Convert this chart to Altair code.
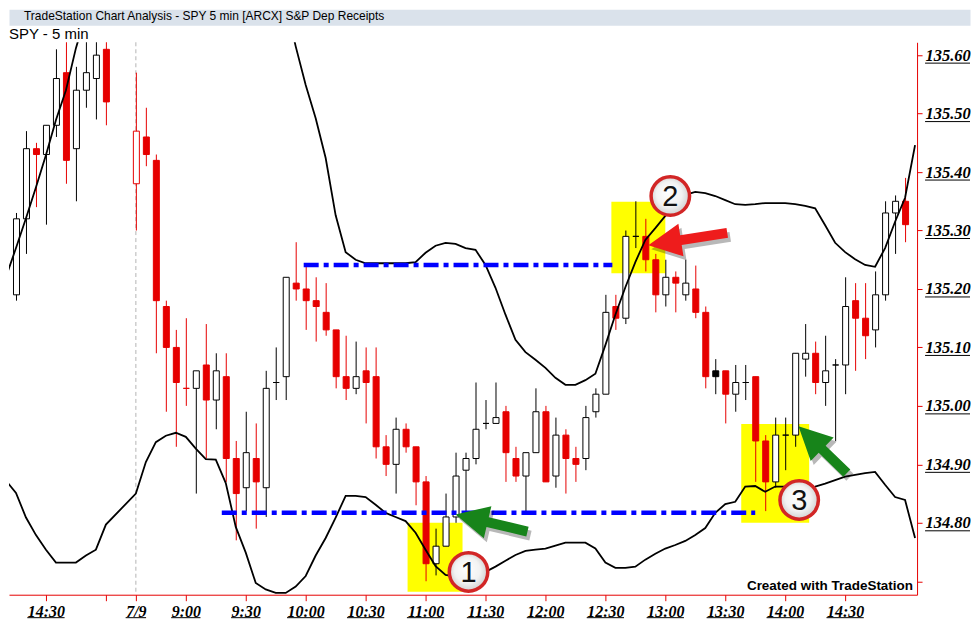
import json
import math
import altair as alt
import pandas as pd

WINDOW_TITLE = "TradeStation Chart Analysis - SPY 5 min [ARCX] S&P Dep Receipts"
CHART_LABEL = "SPY - 5 min"
CREDIT = "Created with TradeStation"

# ---------------- price data (5-minute bars) ----------------
# 7/8 session, last 11 bars (13:50 .. 15:00)
prev_open = [135.06, 135.19, 135.32, 135.44, 135.43, 135.48, 135.57, 135.44, 135.54, 135.56, 135.61]
prev_high = [135.22, 135.33, 135.47, 135.45, 135.48, 135.61, 135.63, 135.58, 135.63, 135.63, 135.63]
prev_low = [135.06, 135.18, 135.26, 135.34, 135.31, 135.46, 135.38, 135.35, 135.51, 135.49, 135.48]
prev_close = [135.20, 135.32, 135.44, 135.43, 135.48, 135.56, 135.42, 135.54, 135.57, 135.60, 135.52]

# 7/9 session, 78 bars (8:35 .. 15:00)
day_open = [135.38, 135.46, 135.42, 135.17, 135.10, 135.03, 135.03, 135.07, 135.01, 135.05,
            134.91, 134.86, 134.91, 134.86, 135.04, 135.05, 135.21, 135.20, 135.18, 135.16,
            135.13, 135.05, 135.03, 135.06, 135.05, 134.93, 134.90, 134.96, 134.93, 134.87,
            134.73, 134.76, 134.81, 134.89, 134.91, 134.97, 134.97, 134.99, 134.91, 134.88,
            134.92, 134.99, 134.88, 134.95, 134.91, 134.91, 134.99, 135.02, 135.17, 135.15,
            135.29, 135.29, 135.25, 135.19, 135.22, 135.19, 135.20, 135.16, 135.06, 135.06,
            135.02, 135.04, 135.05, 134.94, 134.87, 134.95, 134.95, 135.08, 135.09, 135.04,
            135.07, 135.07, 135.18, 135.15, 135.13, 135.19, 135.33, 135.35]
day_high = [135.57, 135.51, 135.43, 135.18, 135.13, 135.15, 135.06, 135.14, 135.09, 135.09,
            134.94, 134.99, 134.97, 135.06, 135.10, 135.22, 135.28, 135.24, 135.22, 135.21,
            135.13, 135.12, 135.11, 135.10, 135.10, 134.95, 134.98, 134.97, 134.93, 134.88,
            134.79, 134.85, 134.92, 134.92, 135.04, 135.01, 135.04, 135.00, 134.93, 134.92,
            135.03, 135.00, 134.98, 134.96, 134.93, 135.00, 135.03, 135.19, 135.19, 135.30,
            135.35, 135.32, 135.26, 135.25, 135.23, 135.25, 135.24, 135.17, 135.08, 135.06,
            135.07, 135.07, 135.05, 134.95, 134.98, 134.98, 135.09, 135.14, 135.11, 135.12,
            135.08, 135.22, 135.21, 135.21, 135.23, 135.35, 135.36, 135.39]
day_low = [135.30, 135.41, 135.09, 134.99, 134.93, 135.00, 134.85, 134.91, 134.96, 134.87,
           134.77, 134.82, 134.79, 134.81, 135.01, 135.01, 135.18, 135.13, 135.11, 135.12,
           135.03, 135.01, 135.02, 134.97, 134.91, 134.88, 134.85, 134.92, 134.83, 134.70,
           134.71, 134.76, 134.80, 134.81, 134.90, 134.96, 134.97, 134.87, 134.87, 134.82,
           134.92, 134.87, 134.86, 134.85, 134.87, 134.89, 134.98, 135.02, 135.13, 135.14,
           135.27, 135.23, 135.16, 135.17, 135.16, 135.18, 135.15, 135.03, 135.02, 134.97,
           134.99, 135.01, 134.87, 134.82, 134.86, 134.89, 134.93, 135.05, 135.02, 135.00,
           134.94, 135.02, 135.06, 135.08, 135.10, 135.18, 135.26, 135.28]
day_close = [135.47, 135.43, 135.18, 135.10, 135.04, 135.03, 135.06, 135.01, 135.06, 134.91,
             134.85, 134.92, 134.87, 135.03, 135.04, 135.22, 135.20, 135.18, 135.17, 135.13,
             135.05, 135.03, 135.05, 135.04, 134.93, 134.90, 134.96, 134.93, 134.87, 134.73,
             134.76, 134.81, 134.88, 134.91, 134.96, 134.97, 134.98, 134.92, 134.88, 134.92,
             134.99, 134.87, 134.95, 134.91, 134.90, 134.98, 135.02, 135.16, 135.15, 135.29,
             135.29, 135.25, 135.19, 135.22, 135.21, 135.21, 135.16, 135.05, 135.05, 135.02,
             135.04, 135.04, 134.94, 134.87, 134.95, 134.95, 135.09, 135.09, 135.04, 135.06,
             135.07, 135.17, 135.15, 135.12, 135.19, 135.33, 135.35, 135.31]

# bar slots: 11 bars of 7/8, a session gap, then 78 bars of 7/9
prev_slots = list(range(0, 11))
day_slots = list(range(13, 91))
special_kind = {13: "up_red", 18: "doji_red", 71: "down_black"}

# band study (upper / lower)
band_slots = list(range(0, 11)) + list(range(13, 92))
upper_band = [135.221, 135.270, 135.321, 135.374, 135.429, 135.489, 135.540, 135.612, 135.670, 135.720, 135.750,
              135.780, 135.800, 135.800, 135.800, 135.800, 135.800, 135.800, 135.800, 135.800, 135.800,
              135.800, 135.800, 135.800, 135.800, 135.760, 135.690, 135.615, 135.549, 135.492, 135.424,
              135.326, 135.263, 135.250, 135.244, 135.244, 135.244, 135.244, 135.244, 135.246, 135.262,
              135.274, 135.279, 135.277, 135.270, 135.267, 135.241, 135.202, 135.156, 135.113, 135.092,
              135.079, 135.065, 135.048, 135.036, 135.036, 135.044, 135.055, 135.104, 135.156, 135.203,
              135.246, 135.284, 135.304, 135.325, 135.344, 135.361, 135.366, 135.364, 135.359, 135.352,
              135.345, 135.344, 135.345, 135.347, 135.347, 135.347, 135.345, 135.342, 135.338, 135.309,
              135.279, 135.263, 135.251, 135.241, 135.238, 135.270, 135.315, 135.356, 135.446]
lower_band = [134.872, 134.851, 134.809, 134.779, 134.754, 134.732, 134.732, 134.732, 134.744, 134.754, 134.797,
              134.850, 134.904, 134.938, 134.949, 134.954, 134.947, 134.927, 134.909, 134.908, 134.868,
              134.793, 134.749, 134.697, 134.686, 134.680, 134.680, 134.691, 134.709, 134.744, 134.774,
              134.809, 134.846, 134.846, 134.844, 134.831, 134.817, 134.810, 134.803, 134.783, 134.754,
              134.726, 134.711, 134.708, 134.708, 134.711, 134.716, 134.725, 134.735, 134.745, 134.752,
              134.754, 134.756, 134.761, 134.766, 134.766, 134.766, 134.756, 134.732, 134.723, 134.723,
              134.725, 134.737, 134.747, 134.756, 134.762, 134.769, 134.779, 134.791, 134.817, 134.832,
              134.836, 134.862, 134.863, 134.853, 134.862, 134.862, 134.862, 134.860, 134.862, 134.867,
              134.873, 134.879, 134.882, 134.885, 134.887, 134.865, 134.844, 134.839, 134.774]

# axes
tick_slots = [4, 10, 13, 18, 24, 30, 36, 42, 48, 54, 60, 66, 72, 78, 84]
tick_labels = ["14:30", "", "7/9", "9:00", "9:30", "10:00", "10:30", "11:00", "11:30",
               "12:00", "12:30", "13:00", "13:30", "14:00", "14:30"]
price_ticks = [134.7, 134.8, 134.9, 135.0, 135.1, 135.2, 135.3, 135.4, 135.5, 135.6]
session_break = [13]

# annotations
level_price = [135.241, 134.817]
level_from = [29.8, 21.6]
level_to = [60.7, 75.0]

zone_x1 = [40.2, 60.6, 73.6]
zone_x2 = [45.7, 66.0, 80.4]
zone_lo = [134.682, 135.227, 134.800]
zone_hi = [134.800, 135.349, 134.969]

marker_slot = [46.3, 66.5, 79.4]
marker_price = [134.716, 135.359, 134.839]
marker_label = ["1", "2", "3"]

arrow_tip_slot = [45.0, 64.3, 79.33]
arrow_tip_price = [134.814, 135.275, 134.965]
arrow_tail_slot = [52.2, 72.2, 84.17]
arrow_tail_price = [134.785, 135.296, 134.885]
arrow_color = ["#17841a", "#ee1c1c", "#17841a"]

# ---------------- styling / layout ----------------
RED = "#e60000"
W, H = 909, 553
X_DOM = [0.3, 91.2]
Y_DOM = [134.677, 135.622]
PX_SLOT = W / (X_DOM[1] - X_DOM[0])
PX_PRICE = H / (Y_DOM[1] - Y_DOM[0])

label_arr = [""] * 92
for s, l in zip(tick_slots, tick_labels):
    label_arr[s] = l

x_axis = alt.Axis(values=tick_slots, labelExpr=json.dumps(label_arr) + "[datum.value]",
                  orient="bottom", domainColor=RED, tickColor=RED, tickSize=6,
                  labelFont="Liberation Serif", labelFontStyle="italic", labelFontWeight="bold",
                  labelFontSize=16, labelColor="black", labelPadding=3, grid=False,
                  title=None, labelOverlap=False, labelFlush=False)
y_axis = alt.Axis(values=price_ticks,
                  labelExpr="datum.value < 134.75 ? '' : format(datum.value, '.2f')",
                  orient="right", domainColor=RED, tickColor=RED, tickSize=5,
                  labelFont="Liberation Serif", labelFontStyle="italic", labelFontWeight="bold",
                  labelFontSize=16.5, labelColor="black", labelPadding=3, grid=False,
                  title=None, labelOverlap=False, labelFlush=False)
X_SCALE = alt.Scale(domain=X_DOM, nice=False, zero=False, padding=0)
Y_SCALE = alt.Scale(domain=Y_DOM, nice=False, zero=False, padding=0)


def X(f):
    return alt.X(f"{f}:Q", scale=X_SCALE, axis=x_axis)


def Y(f):
    return alt.Y(f"{f}:Q", scale=Y_SCALE, axis=y_axis)


# ---------------- tables ----------------
style = {"up": ("white", "black"), "down": (RED, RED), "up_red": ("white", RED),
         "doji_red": (RED, RED), "down_black": ("black", "black")}
rows = []
for s, o, h, l, c in zip(prev_slots + day_slots, prev_open + day_open, prev_high + day_high,
                         prev_low + day_low, prev_close + day_close):
    kind = special_kind.get(s, "up" if c >= o else "down")
    fill, stroke = style[kind]
    rows.append({"slot": s, "open": o, "high": h, "low": l, "close": c,
                 "lo": min(o, c), "hi": max(o, c), "fill": fill, "stroke": stroke})
candles = pd.DataFrame(rows)

bands = pd.DataFrame({"slot": band_slots * 2, "value": upper_band + lower_band,
                      "band": ["upper"] * len(band_slots) + ["lower"] * len(band_slots)})
levels = pd.DataFrame({"x1": level_from, "x2": level_to, "p": level_price})
zones = pd.DataFrame({"x1": zone_x1, "x2": zone_x2, "lo": zone_lo, "hi": zone_hi})
markers = pd.DataFrame({"slot": marker_slot, "price": marker_price, "label": marker_label})
divider = pd.DataFrame({"slot": session_break})


def arrow_path(length, head_len=33.0, head_w=33.0, shaft_w=10.0):
    u = length / 2.0
    hb = -1 + head_len / u
    hw = head_w / 2 / u
    sw = shaft_w / 2 / u
    return (f"M0,-1L{hw:.3f},{hb:.3f}L{sw:.3f},{hb:.3f}L{sw:.3f},1"
            f"L{-sw:.3f},1L{-sw:.3f},{hb:.3f}L{-hw:.3f},{hb:.3f}Z")


arows = []
for ts, tp, qs, qp, col in zip(arrow_tip_slot, arrow_tip_price, arrow_tail_slot,
                               arrow_tail_price, arrow_color):
    dx = (ts - qs) * PX_SLOT
    dy = -(tp - qp) * PX_PRICE
    L = math.hypot(dx, dy)
    ang = math.degrees(math.atan2(dx / L, -dy / L)) % 360
    arows.append({"slot": (ts + qs) / 2, "price": (tp + qp) / 2, "angle": ang,
                  "size": L * L, "path": arrow_path(L), "color": col})
arrows = pd.DataFrame(arows)

# underline decorations for the axis labels (TradeStation style)
lab_ticks = [p for p in price_ticks if p > 134.75]
yline = pd.DataFrame({"p": lab_ticks})
cw = {":": 0.333, "/": 0.278}
xl_rows = []
for s, l in zip(tick_slots, tick_labels):
    if not l:
        continue
    w = sum(cw.get(ch, 0.5) for ch in l) * 16 / PX_SLOT
    xl_rows.append({"u0": s - w / 2, "u1": s + w / 2})
xline = pd.DataFrame(xl_rows)
credit = pd.DataFrame({"slot": [90.8], "price": [134.692], "t": [CREDIT]})

# ---------------- layers ----------------
visible = "datum.slot >= 1"
zone_layer = alt.Chart(zones).mark_rect(color="#ffff00").encode(
    x=X("x1"), x2="x2", y=Y("lo"), y2="hi")
div_layer = alt.Chart(divider).mark_rule(color="#b4b4b4", strokeDash=[4, 3], strokeWidth=1).encode(
    x=X("slot"))
wick_layer = alt.Chart(candles).transform_filter(visible).mark_rule(
    strokeWidth=1, clip=True, xOffset=0.5, x2Offset=0.5).encode(
    x=X("slot"), y=Y("low"), y2="high", color=alt.Color("stroke:N", scale=None))
body_layer = alt.Chart(candles).transform_filter(visible).mark_bar(
    size=6, strokeWidth=1, clip=True, xOffset=0.5).encode(
    x=X("slot"), y=Y("lo"), y2="hi",
    fill=alt.Fill("fill:N", scale=None), stroke=alt.Stroke("stroke:N", scale=None))
band_layer = alt.Chart(bands).mark_line(color="black", strokeWidth=1.8, clip=True).encode(
    x=X("slot"), y=Y("value"), detail="band:N")
level_layer = alt.Chart(levels).mark_rule(color="#0000ff", strokeWidth=4.5,
                                          strokeDash=[15, 5, 5, 5]).encode(
    x=X("x1"), x2="x2", y=Y("p"))
shadow_layer = alt.Chart(arrows).mark_point(filled=True, opacity=0.28, color="#000000",
                                            strokeWidth=0, xOffset=3, yOffset=4).encode(
    x=X("slot"), y=Y("price"), shape=alt.Shape("path:N", scale=None),
    size=alt.Size("size:Q", scale=None), angle=alt.Angle("angle:Q", scale=None))
arrow_layer = alt.Chart(arrows).mark_point(filled=True, opacity=1, strokeWidth=0).encode(
    x=X("slot"), y=Y("price"), shape=alt.Shape("path:N", scale=None),
    size=alt.Size("size:Q", scale=None), angle=alt.Angle("angle:Q", scale=None),
    color=alt.Color("color:N", scale=None))
ring_fill = alt.RadialGradient(gradient="radial", x1=0.42, y1=0.38, r1=0, x2=0.5, y2=0.5, r2=0.55,
                               stops=[alt.GradientStop(color="#ffffff", offset=0),
                                      alt.GradientStop(color="#f2f2f2", offset=0.6),
                                      alt.GradientStop(color="#c8c8c8", offset=1)])
circle_layer = alt.Chart(markers).mark_point(shape="circle", filled=True, size=1482, opacity=1,
                                             fill=ring_fill, stroke="#d22626", strokeWidth=3.5).encode(
    x=X("slot"), y=Y("price"))
num_layer = alt.Chart(markers).mark_text(font="Liberation Sans", fontSize=29, color="#111111",
                                         align="center", baseline="middle", dy=1).encode(
    x=X("slot"), y=Y("price"), text="label:N")
credit_layer = alt.Chart(credit).mark_text(font="Liberation Sans", fontWeight="bold", fontSize=13.5,
                                           color="black", align="right", baseline="middle").encode(
    x=X("slot"), y=Y("price"), text="t:N")
yline_layer = alt.Chart(yline).mark_rule(color="black", strokeWidth=1, yOffset=8).encode(
    x=alt.value(W + 8), x2=alt.value(W + 8 + 45), y=Y("p"))
xline_layer = alt.Chart(xline).mark_rule(color="black", strokeWidth=1).encode(
    x=X("u0"), x2="u1", y=alt.value(H + 23))

main = alt.layer(zone_layer, div_layer, wick_layer, body_layer, band_layer, level_layer,
                 shadow_layer, arrow_layer, circle_layer, num_layer, credit_layer,
                 yline_layer, xline_layer).properties(
    width=W, height=H,
    title=alt.TitleParams(CHART_LABEL, anchor="start", font="Liberation Sans", fontSize=15,
                          fontWeight="normal", color="black", offset=0))

top = alt.Chart(pd.DataFrame({"t": [WINDOW_TITLE]})).mark_text(
    align="left", baseline="middle", font="Liberation Sans", fontSize=12, color="#000000").encode(
    text="t:N", x=alt.value(15), y=alt.value(7)).properties(
    width=962, height=16, view=alt.ViewBackground(fill="#dae2eb", stroke="transparent"))

chart = alt.vconcat(top, main, spacing=0).properties(
    padding={"left": 0, "top": 0, "right": 0, "bottom": 0}, background="white").configure_view(
    stroke="transparent")

chart.save("out.html", embed_options={"renderer": "svg", "actions": False})
